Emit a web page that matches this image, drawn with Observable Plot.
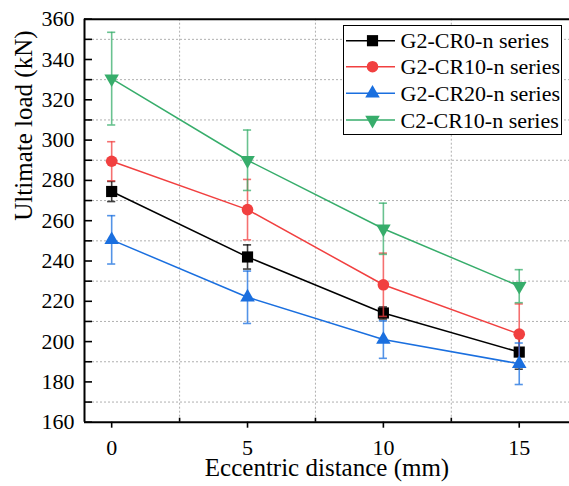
<!DOCTYPE html>
<html>
<head>
<meta charset="utf-8">
<script src="https://cdn.jsdelivr.net/npm/d3@7"></script>
<script src="https://cdn.jsdelivr.net/npm/@observablehq/plot@0.6"></script>
<style>
  body { margin: 0; background: #fff; }
  #wrap { position: relative; width: 569px; height: 486px; font-family: "Liberation Serif", "Times New Roman", serif; }
  #wrap svg text { font-family: "Liberation Serif", "Times New Roman", serif; }
  #legend { position: absolute; left: 343px; top: 25px; }
</style>
</head>
<body>
<div id="wrap"></div>
<script>
// ---- data ----
const eccentric = [0, 5, 10, 15];
const seriesNames = ["G2-CR0-n series", "G2-CR10-n series", "G2-CR20-n series", "C2-CR10-n series"];
const seriesColors = ["#000000", "#F14040", "#1A6FDF", "#37AD6B"];
const seriesSymbols = ["square", "circle", "triangle", "triangleDown"];
const loadCR0 = [274.5, 242.0, 214.2, 194.8];
const errCR0 = [5.0, 6.0, 3.0, 8.5];
const loadCR10 = [289.5, 265.5, 228.2, 203.7];
const errCR10 = [9.7, 15.0, 15.7, 15.0];
const loadCR20 = [250.5, 222.0, 201.0, 189.0];
const errCR20 = [12.0, 13.0, 9.3, 10.3];
const loadC2CR10 = [330.5, 290.0, 256.0, 227.5];
const errC2CR10 = [23.0, 15.0, 12.7, 8.2];
const yTickLabels = [160, 180, 200, 220, 240, 260, 280, 300, 320, 340, 360];
const yTicksAll = d3.range(160, 361, 10);
const yGrid = [170, 190, 210, 230, 250, 270, 290, 310, 330, 350];
const xTickLabels = [0, 5, 10, 15];
const xMinor = [2.5, 7.5, 12.5];

const loads = [loadCR0, loadCR10, loadCR20, loadC2CR10];
const errs = [errCR0, errCR10, errCR20, errC2CR10];

const rows = seriesNames.flatMap((s, i) =>
  eccentric.map((x, j) => ({series: s, color: seriesColors[i], sym: seriesSymbols[i], x, y: loads[i][j], e: errs[i][j]})));
const caps = rows.flatMap(d => [{...d, cy: d.y + d.e}, {...d, cy: d.y - d.e}]);

const triangleDown = {
  draw(context, size) {
    const y = Math.sqrt(size / (Math.sqrt(3) * 3));
    context.moveTo(0, 2 * y);
    context.lineTo(Math.sqrt(3) * y, -y);
    context.lineTo(-Math.sqrt(3) * y, -y);
    context.closePath();
  }
};
const symFor = name => name === "triangleDown" ? triangleDown : name;
const rFor = name => (name === "square" ? 6.3 : name === "circle" ? 5.8 : 5.4);

const font = "Liberation Serif";
const capHalf = 0.15;

const marks = [
  Plot.gridY(yGrid, {stroke: "#b0b0b0", strokeOpacity: 1, strokeDasharray: "2,2"}),
  Plot.gridX(xMinor, {stroke: "#b0b0b0", strokeOpacity: 1, strokeDasharray: "2,2"}),
];
seriesNames.forEach((s, i) => {
  const data = rows.filter(d => d.series === s);
  const cdata = caps.filter(d => d.series === s);
  marks.push(
    Plot.line(data, {x: "x", y: "y", stroke: seriesColors[i], strokeWidth: 1.5}),
    Plot.ruleX(data, {x: "x", y1: d => d.y - d.e, y2: d => d.y + d.e, stroke: seriesColors[i], strokeWidth: 1.6, strokeOpacity: 0.75}),
    Plot.ruleY(cdata, {y: "cy", x1: d => d.x - capHalf, x2: d => d.x + capHalf, stroke: seriesColors[i], strokeWidth: 1.6, strokeOpacity: 0.75}),
    Plot.dot(data, {x: "x", y: "y", symbol: symFor(seriesSymbols[i]), r: rFor(seriesSymbols[i]), fill: seriesColors[i], stroke: "none"})
  );
});
marks.push(
  Plot.axisY(yTickLabels, {tickSize: 0, tickPadding: 10, fontSize: 22, fontFamily: font, label: null, fill: "#000"}),
  Plot.axisY(yTicksAll, {tickSize: -8, tickFormat: () => "", label: null, strokeWidth: 1.6}),
  Plot.axisX(xTickLabels, {tickSize: 6, tickPadding: 11, fontSize: 22, fontFamily: font, label: null, strokeWidth: 1.6, fill: "#000"}),
  Plot.axisX(xMinor, {tickSize: -4, tickFormat: () => "", label: null, strokeWidth: 1.6}),
  Plot.ruleX([-1], {stroke: "#000", strokeWidth: 2}),
  Plot.ruleY([160, 360], {stroke: "#000", strokeWidth: 2}),
  Plot.text(["Eccentric distance (mm)"], {frameAnchor: "bottom", dy: 54, fontSize: 25, fontFamily: font, fill: "#000"}),
  Plot.text(["Ultimate load (kN)"], {frameAnchor: "left", rotate: -90, dx: -61, fontSize: 25, fontFamily: font, fill: "#000"})
);

const chart = Plot.plot({
  width: 569,
  height: 486,
  marginLeft: 84,
  marginRight: 0,
  marginTop: 18.7,
  marginBottom: 64.3,
  style: {fontFamily: font, background: "#fff", color: "#000", overflow: "visible"},
  x: {domain: [-1, 16.85]},
  y: {domain: [160, 360]},
  marks
});
document.getElementById("wrap").appendChild(chart);

// ---- legend ----
const lw = 219, lh = 110;
const leg = d3.select("#wrap").append("svg").attr("id", "legend")
  .attr("width", lw).attr("height", lh);
leg.append("rect").attr("x", 0.5).attr("y", 0.5).attr("width", lw - 1).attr("height", lh - 1)
  .attr("fill", "#fff").attr("stroke", "#000").attr("stroke-width", 1);
const rowY = [15.7, 41.7, 68.3, 95];
seriesNames.forEach((s, i) => {
  const g = leg.append("g").attr("transform", `translate(0,${rowY[i]})`);
  g.append("line").attr("x1", 3).attr("x2", 52).attr("y1", 0).attr("y2", 0)
    .attr("stroke", seriesColors[i]).attr("stroke-width", 1.5);
  const sym = seriesSymbols[i];
  const r = rFor(sym);
  const symObj = sym === "triangleDown" ? triangleDown : sym === "square" ? d3.symbolSquare : sym === "circle" ? d3.symbolCircle : d3.symbolTriangle;
  g.append("path").attr("transform", "translate(29.5,0)")
    .attr("d", d3.symbol(symObj, Math.PI * r * r)())
    .attr("fill", seriesColors[i]);
  g.append("text").attr("x", 57.5).attr("y", 0).attr("dy", "0.35em")
    .attr("font-family", font).attr("font-size", 22).attr("fill", "#000").text(s);
});
</script>
</body>
</html>
